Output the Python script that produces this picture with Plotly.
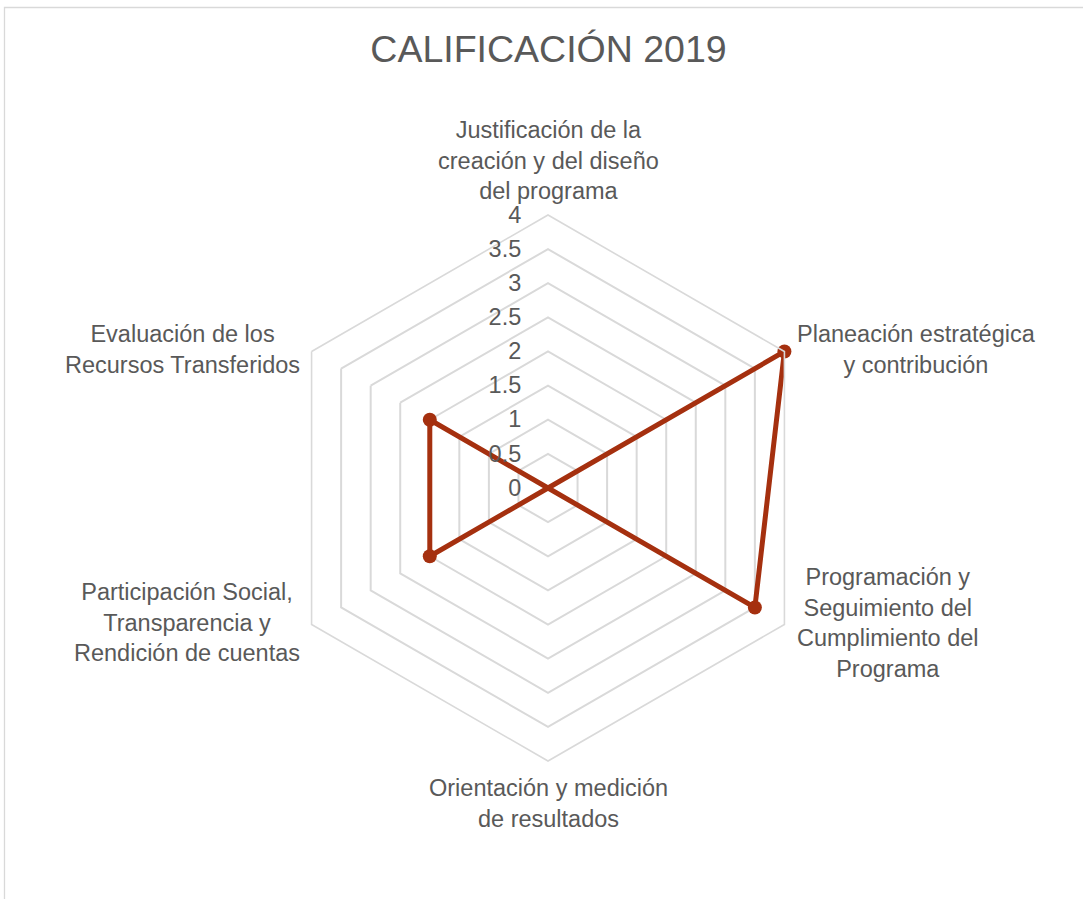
import math
import plotly.graph_objects as go

categories = [
    "Justificación de la<br>creación y del diseño<br>del programa",
    "Planeación estratégica<br>y contribución",
    "Programación y<br>Seguimiento del<br>Cumplimiento del<br>Programa",
    "Orientación y medición<br>de resultados",
    "Participación Social,<br>Transparencia y<br>Rendición de cuentas",
    "Evaluación de los<br>Recursos Transferidos",
]
values = [0, 4, 3.5, 0, 2, 2]
radial_ticks = [0, 0.5, 1, 1.5, 2, 2.5, 3, 3.5, 4]
title_text = "CALIFICACIÓN 2019"

W, H = 1083, 899
cx, cy, R = 548, 488, 273
RMAX = 4

LINE = "#A5300F"
GRID = "#D9D9D9"
TXT = "#595959"
FONT = "Liberation Sans, Arial, sans-serif"
FS = 23.5

fig = go.Figure()
fig.add_trace(go.Scatterpolar(
    r=values + values[:1],
    theta=categories + categories[:1],
    mode="lines+markers",
    line=dict(color=LINE, width=5),
    marker=dict(color=LINE, size=14),
    showlegend=False,
    hoverinfo="skip",
))

# category labels placed just outside each hexagon vertex
annotations = []
n = len(categories)
for i, cat in enumerate(categories):
    ang = math.radians(90 - 360 * i / n)
    vx = cx + R * math.cos(ang)
    vy = cy - R * math.sin(ang)
    c, s = math.cos(ang), math.sin(ang)
    if abs(c) < 1e-6:
        xa = "center"
        ya = "bottom" if s > 0 else "top"
        xs, ys = 0, (9 if s > 0 else -12)
    else:
        xa = "left" if c > 0 else "right"
        ya = "middle"
        xs, ys = (11 if c > 0 else -10), 2
    annotations.append(dict(
        text=cat, x=vx / W, y=1 - vy / H, xref="paper", yref="paper",
        xanchor=xa, yanchor=ya, xshift=xs, yshift=ys, showarrow=False,
        align="center", font=dict(size=FS, color=TXT, family=FONT),
    ))

fig.update_layout(
    width=W, height=H,
    margin=dict(l=0, r=0, t=0, b=0),
    paper_bgcolor="white",
    plot_bgcolor="white",
    font=dict(family=FONT, color=TXT, size=FS),
    title=dict(text=title_text, x=548.5 / W, xanchor="center",
               y=1 - 49 / H, yanchor="middle", yref="container",
               font=dict(size=37.5, color=TXT, family=FONT)),
    polar=dict(
        domain=dict(x=[(cx - R) / W, (cx + R) / W],
                    y=[(H - cy - R) / H, (H - cy + R) / H]),
        bgcolor="white",
        gridshape="linear",
        angularaxis=dict(
            rotation=90, direction="clockwise",
            showgrid=False, showline=True, linecolor=GRID, linewidth=1.6,
            ticks="", showticklabels=False,
        ),
        radialaxis=dict(
            range=[0, RMAX], tickvals=radial_ticks,
            ticktext=[f"{v:g}" for v in radial_ticks],
            angle=90, tickangle=90, side="counterclockwise",
            showline=False, gridcolor=GRID, gridwidth=1.6,
            ticks="outside", ticklen=18, tickcolor="rgba(0,0,0,0)",
            tickfont=dict(size=FS, color=TXT),
        ),
    ),
    annotations=annotations,
    shapes=[dict(type="rect", xref="paper", yref="paper",
                 x0=4.5 / W, x1=1.2, y0=-0.2, y1=1 - 7.5 / H,
                 line=dict(color=GRID, width=1.3), layer="below")],
)

fig.write_html("out.html", config={"displayModeBar": False},
               post_script="document.body.style.margin='0px';document.body.style.padding='0px';")
